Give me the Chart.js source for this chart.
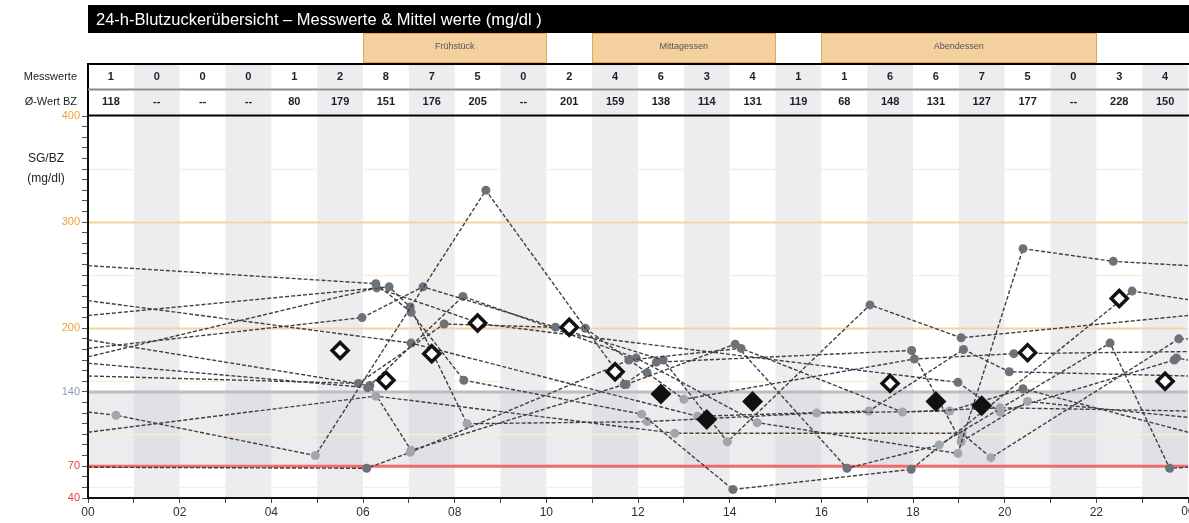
<!DOCTYPE html>
<html>
<head>
<meta charset="utf-8">
<script src="https://cdn.jsdelivr.net/npm/chart.js@4.4.1/dist/chart.umd.min.js"></script>
<style>
  html, body { margin: 0; padding: 0; background: #fff; }
  #bz { display: block; }
</style>
</head>
<body>
<canvas id="bz" width="1189" height="523"></canvas>
<script>
// 24h Blutzucker overview

const titleText = '24-h-Blutzuckerübersicht – Messwerte & Mittel werte (mg/dl )';

// per hour (00-01, 01-02, ... 23-24)
const counts = [1, 0, 0, 0, 1, 2, 8, 7, 5, 0, 2, 4, 6, 3, 4, 1, 1, 6, 6, 7, 5, 0, 3, 4];
const means = [118, null, null, null, 80, 179, 151, 176, 205, null, 201, 159, 138, 114, 131, 119, 68, 148, 131, 127, 177, null, 228, 150];

const mealNames = ['Frühstück', 'Mittagessen', 'Abendessen'];
const mealFrom = [6, 11, 16];
const mealTo = [10, 15, 22];

const yLabelValues = [40, 70, 140, 200, 300, 400];

// single readings per day: [hour, mg/dl], 0 and 24 are the line across midnight
const day1 = [[0, 69], [6.08, 68], [7.03, 83], [11.8, 170], [14.25, 181], [17.77, 121], [19.9, 125], [24, 122]];
const day2 = [[0, 121], [0.61, 118], [4.96, 80], [8.68, 330], [11.74, 147], [14.12, 185], [16.56, 68], [18.57, 90], [22.3, 186], [23.6, 68], [24, 69]];
const day3 = [[0, 259], [6.28, 242], [7.05, 215], [8.2, 151], [12.08, 119], [14.07, 48], [17.96, 67], [22.78, 235], [24, 227]];
const day4 = [[0, 212], [6.57, 239], [7.03, 220], [8.27, 110], [12.2, 112], [15.9, 120], [18.8, 122], [20.4, 143], [24, 102]];
const day5 = [[0, 181], [5.98, 210], [7.31, 239], [10.2, 201], [12.55, 170], [13.95, 93], [17.06, 222], [19.05, 191], [24, 212]];
const day6 = [[0, 155], [5.9, 148], [7.77, 204], [10.85, 200], [12.2, 158], [13.0, 133], [18.03, 171], [20.2, 176], [24, 178]];
const day7 = [[0, 167], [6.1, 144], [8.18, 230], [11.96, 172], [14.6, 111], [18.98, 82], [20.4, 275], [22.37, 263], [24, 259]];
const day8 = [[0, 102], [6.28, 136], [12.8, 101], [19.07, 101], [19.7, 78], [23.8, 190], [24, 190]];
const day9 = [[0, 226], [7.05, 186], [13.3, 117], [17.04, 122], [19.1, 180], [20.1, 159], [24, 155]];
const day10 = [[0, 189], [6.15, 146], [7.05, 85], [11.7, 147], [12.4, 168], [17.97, 179], [19.05, 93], [20.5, 131], [24, 116]];
const day11 = [[0, 173], [6.3, 238], [8.6, 204], [18.98, 149], [19.9, 121], [23.7, 170], [23.75, 172], [24, 170]];
const days = [day1, day2, day3, day4, day5, day6, day7, day8, day9, day10, day11];

const FONT = '"Liberation Sans", Arial, sans-serif';

function dotColor(v) {
  return (v >= 70 && v <= 140) ? '#a2a5ab' : '#6e7177';
}

function hourLabel(v) {
  return String(v % 24).padStart(2, '0');
}

let datasets = [];

// hourly means (only where 2+ readings)
let meanPts = [];
let meanFill = [];
means.forEach((m, h) => {
  if (m !== null && counts[h] >= 2) {
    meanPts.push({ x: h + 0.5, y: m });
    meanFill.push(m < 140 ? '#111' : '#fff');
  }
});
datasets.push({
  data: meanPts,
  showLine: false,
  pointStyle: 'rectRot',
  pointRadius: 8,
  pointBorderWidth: 3.5,
  pointBorderColor: '#111',
  pointBackgroundColor: meanFill,
  order: 0
});

days.forEach(d => {
  datasets.push({
    data: d.map(p => ({ x: p[0], y: p[1] })),
    showLine: true,
    borderColor: '#404040',
    borderWidth: 1.4,
    borderDash: [4, 2],
    pointRadius: d.map(p => (p[0] === 0 || p[0] === 24) ? 0 : 4.5),
    pointBackgroundColor: d.map(p => dotColor(p[1])),
    pointBorderWidth: 0,
    order: 1
  });
});

// background: hour bands, target range, reference lines
const bzBack = {
  id: 'bzBack',
  beforeDraw(chart) {
    const { ctx, chartArea: a, scales: { x, y } } = chart;
    ctx.save();
    ctx.fillStyle = '#ededf0';
    for (let h = 1; h < 24; h += 2) {
      const x0 = x.getPixelForValue(h), x1 = x.getPixelForValue(h + 1);
      ctx.fillRect(x0, a.top, x1 - x0, a.bottom - a.top);
      ctx.fillRect(x0, 65, x1 - x0, 23);
      ctx.fillRect(x0, 91, x1 - x0, 23);
    }
    const yHi = y.getPixelForValue(140), yLo = y.getPixelForValue(70);
    ctx.fillStyle = 'rgba(205,207,213,0.4)';
    ctx.fillRect(a.left, yHi, a.right - a.left, yLo - yHi);

    for (let v = 50; v < 400; v += 50) {
      const py = Math.round(y.getPixelForValue(v)) + 0.5;
      const strong = (v === 200 || v === 300);
      ctx.strokeStyle = strong ? '#f8d3a0' : '#fcecd9';
      ctx.lineWidth = strong ? 2 : 1.5;
      ctx.beginPath();
      ctx.moveTo(a.left, py);
      ctx.lineTo(a.right, py);
      ctx.stroke();
    }
    ctx.lineWidth = 3;
    ctx.strokeStyle = '#bdbec2';
    ctx.beginPath();
    ctx.moveTo(a.left, y.getPixelForValue(140));
    ctx.lineTo(a.right, y.getPixelForValue(140));
    ctx.stroke();
    ctx.strokeStyle = '#f46a6a';
    ctx.beginPath();
    ctx.moveTo(a.left, y.getPixelForValue(70));
    ctx.lineTo(a.right, y.getPixelForValue(70));
    ctx.stroke();
    ctx.restore();
  }
};

// header table above the plot
const bzHead = {
  id: 'bzHead',
  afterDraw(chart) {
    const { ctx, chartArea: a, scales: { x } } = chart;
    const W = chart.width;
    ctx.save();

    // title bar
    ctx.fillStyle = '#000';
    ctx.fillRect(a.left, 5, W - a.left, 28);
    ctx.fillStyle = '#fff';
    ctx.font = '16.5px ' + FONT;
    ctx.textAlign = 'left';
    ctx.textBaseline = 'middle';
    ctx.fillText(titleText, a.left + 8, 20);

    // meals
    for (let i = 0; i < mealNames.length; i++) {
      const x0 = x.getPixelForValue(mealFrom[i]), x1 = x.getPixelForValue(mealTo[i]);
      ctx.fillStyle = '#f3d09e';
      ctx.fillRect(x0, 34, x1 - x0, 29);
      ctx.strokeStyle = '#e3a553';
      ctx.lineWidth = 1;
      ctx.strokeRect(Math.round(x0) + 0.5, 33.5, Math.round(x1 - x0), 29);
      ctx.fillStyle = '#555';
      ctx.font = '9px ' + FONT;
      ctx.textAlign = 'center';
      ctx.fillText(mealNames[i], (x0 + x1) / 2, 47);
    }

    // row lines
    ctx.strokeStyle = '#000';
    ctx.lineWidth = 2;
    ctx.beginPath();
    ctx.moveTo(a.left, 64); ctx.lineTo(W, 64);
    ctx.moveTo(a.left, 63); ctx.lineTo(a.left, a.top);
    ctx.moveTo(a.left, a.top - 0.5); ctx.lineTo(W, a.top - 0.5);
    ctx.stroke();
    ctx.strokeStyle = '#8a8a8a';
    ctx.beginPath();
    ctx.moveTo(a.left, 89.5); ctx.lineTo(W, 89.5);
    ctx.stroke();

    // values
    ctx.fillStyle = '#1e1e28';
    ctx.font = 'bold 11px ' + FONT;
    ctx.textAlign = 'center';
    for (let h = 0; h < 24; h++) {
      const cx = x.getPixelForValue(h + 0.5);
      ctx.fillText(String(counts[h]), cx, 77);
      ctx.fillText(means[h] === null ? '--' : String(means[h]), cx, 102);
    }

    // row labels
    ctx.font = '11px ' + FONT;
    ctx.textAlign = 'right';
    ctx.fillStyle = '#222';
    ctx.fillText('Messwerte', 77, 77);
    ctx.fillText('Ø-Wert BZ', 77, 102);

    // y title
    ctx.textAlign = 'center';
    ctx.font = '12px ' + FONT;
    ctx.fillText('SG/BZ', 46, 159);
    ctx.fillText('(mg/dl)', 46, 179);

    // last hour label sits on the canvas edge
    ctx.fillStyle = '#2a2f3a';
    ctx.font = '12px ' + FONT;
    ctx.textBaseline = 'top';
    ctx.fillText(hourLabel(24), x.getPixelForValue(24), a.bottom + 8);
    ctx.restore();
  }
};

new Chart(document.getElementById('bz'), {
  type: 'line',
  data: { datasets: datasets },
  options: {
    responsive: false,
    animation: false,
    events: [],
    layout: { autoPadding: false, padding: { top: 116, right: 1, left: 0, bottom: 0 } },
    plugins: { legend: { display: false }, tooltip: { enabled: false } },
    scales: {
      x: {
        type: 'linear',
        min: 0,
        max: 24,
        afterFit: s => { s.height = 25; s.paddingLeft = 0; s.paddingRight = 0; },
        ticks: {
          stepSize: 1,
          autoSkip: false,
          maxRotation: 0,
          padding: 2,
          color: '#2a2f3a',
          font: { family: FONT, size: 12 },
          callback: v => (v % 2 === 0 && v < 24) ? hourLabel(v) : ''
        },
        grid: { drawOnChartArea: false, tickLength: 5, color: '#444' },
        border: { color: '#111', width: 2 }
      },
      y: {
        min: 40,
        max: 400,
        afterFit: s => { s.width = 88; },
        ticks: {
          stepSize: 10,
          autoSkip: false,
          padding: 2,
          font: { family: FONT, size: 11 },
          color: c => {
            const v = c.tick ? c.tick.value : 0;
            if (v <= 70) return '#f03a3a';
            if (v === 140) return '#8c99b0';
            return '#eba33a';
          },
          callback: v => yLabelValues.includes(v) ? String(v) : ''
        },
        grid: { drawOnChartArea: false, tickLength: 6, color: '#555' },
        border: { color: '#111', width: 2 }
      }
    }
  },
  plugins: [bzBack, bzHead]
});
</script>
</body>
</html>
